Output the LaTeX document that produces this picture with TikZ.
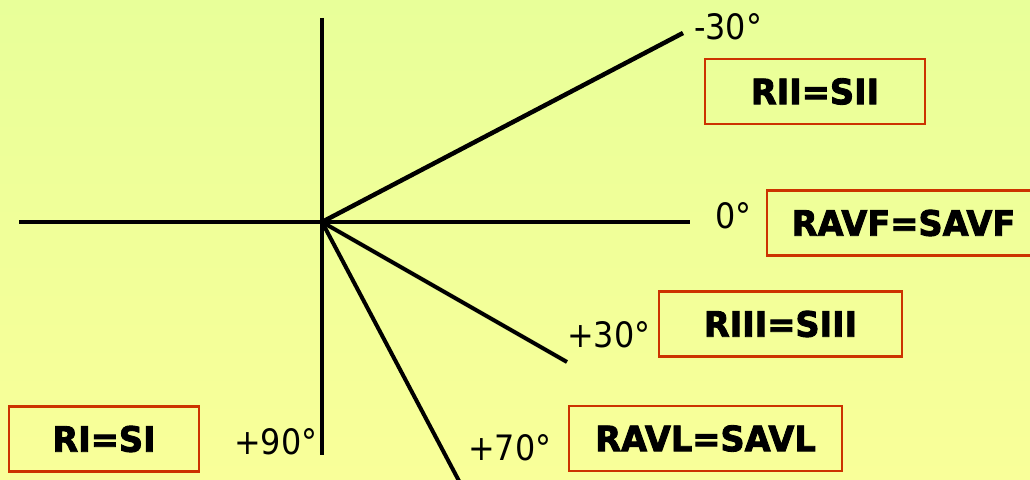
\documentclass[tikz,border=0pt]{standalone}
\usepackage{fontspec}
\setmainfont{DejaVu Sans}
\newfontfamily\degfont[FakeStretch=0.91]{DejaVu Sans}
\newfontfamily\boxfont[FakeStretch=0.96,FakeBold=2.5]{DejaVu Sans Bold}
\definecolor{bgtop}{RGB}{232,255,153}
\definecolor{bgbot}{RGB}{249,255,153}
\definecolor{boxred}{RGB}{204,51,0}
\begin{document}
\begin{tikzpicture}[x=1pt,y=1pt,
  ax/.style={line width=4.5pt, black},
  lbox/.style={draw=boxred, line width=2.2pt, minimum height=65pt, inner sep=0pt,
    font=\boxfont\fontsize{35}{40}\selectfont},
  deg/.style={inner sep=0pt, anchor=base west, font=\degfont\fontsize{35}{42}\selectfont}]
\shade[top color=bgtop, bottom color=bgbot] (0,0) rectangle (1030,479);
\useasboundingbox (0,0) rectangle (1030,479);
\clip (0,0) rectangle (1030,479);
% axis points
\coordinate (O) at (322,257);
\coordinate (vtop) at (322,461);
\coordinate (vbot) at (322,24);
\coordinate (hleft) at (19,257);
\coordinate (hright) at (690,257);
\coordinate (m30) at (683,446);
\coordinate (p30) at (567,117);
\coordinate (p70) at (460.6,-5);
% axes and leads
\draw[ax, line width=4pt] (vtop) -- (vbot);
\draw[ax] (hleft) -- (hright);
\draw[ax] (O) -- (m30);
\draw[ax, line width=4pt] (O) -- (p30);
\draw[ax, line width=4pt] (O) -- (p70);
% degree labels
\node[deg] (lm30) at (694,439) {-30°};
\node[deg] (l0) at (715,250) {0°};
\node[deg] (lp30) at (567,131) {+30°};
\node[deg] (lp90) at (234,24) {+90°};
\node[deg] (lp70) at (468,19) {+70°};
% boxes
\node[lbox, minimum width=220pt] (bII) at (815,387.5) {RII=SII};
\node[lbox, minimum width=273pt] (bAVF) at (903.5,256) {RAVF=SAVF};
\node[lbox, minimum width=243pt] (bIII) at (780.5,155) {RIII=SIII};
\node[lbox, minimum width=273pt] (bAVL) at (705.5,40.5) {RAVL=SAVL};
\node[lbox, minimum width=190pt] (bI) at (104,40) {RI=SI};
\end{tikzpicture}
\end{document}
